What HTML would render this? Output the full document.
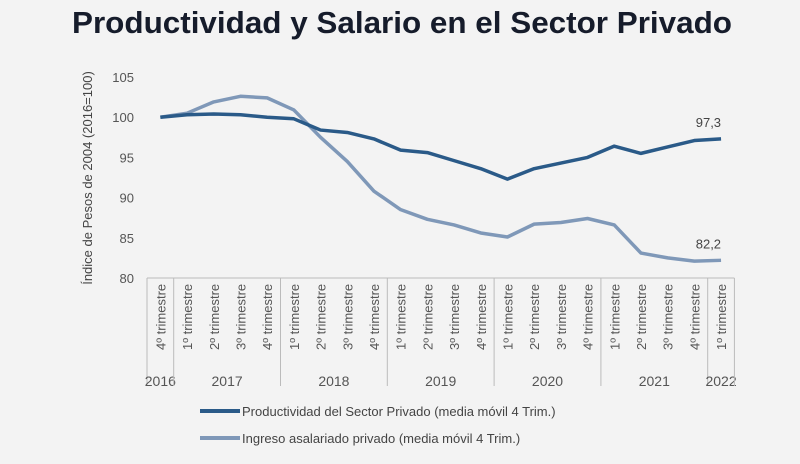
<!DOCTYPE html>
<html><head><meta charset="utf-8"><style>
body{margin:0;background:#f3f3f3;width:800px;height:459px;overflow:hidden;font-family:"Liberation Sans",sans-serif}
</style></head><body>
<svg width="800" height="459" viewBox="0 0 800 459">
<rect width="800" height="459" fill="#f3f3f3"/>
<text x="402" y="33" text-anchor="middle" font-size="31" font-weight="bold" fill="#161c2b" textLength="660" lengthAdjust="spacingAndGlyphs">Productividad y Salario en el Sector Privado</text>
<text transform="translate(92,178) rotate(-90)" text-anchor="middle" font-size="13" fill="#444">Índice de Pesos de 2004 (2016=100)</text>
<g id="yt"></g><g id="xa"></g><g id="lines"></g>
<line x1="200" y1="411" x2="240" y2="411" stroke="#2a5a88" stroke-width="4"/>
<text x="242" y="416" font-size="13" fill="#444">Productividad del Sector Privado (media móvil 4 Trim.)</text>
<line x1="200" y1="438" x2="240" y2="438" stroke="#7f98b8" stroke-width="4"/>
<text x="242" y="443" font-size="13" fill="#444">Ingreso asalariado privado (media móvil 4 Trim.)</text>
</svg>
<script>
const quarters=["4º","1º","2º","3º","4º","1º","2º","3º","4º","1º","2º","3º","4º","1º","2º","3º","4º","1º","2º","3º","4º","1º"];
const years=[["2016",1],["2017",4],["2018",4],["2019",4],["2020",4],["2021",4],["2022",1]];
const productividad=[100,100.3,100.4,100.3,100.0,99.8,98.4,98.1,97.3,95.9,95.6,94.6,93.6,92.3,93.6,94.3,95.0,96.4,95.5,96.3,97.1,97.3];
const ingreso=[100,100.5,101.9,102.6,102.4,100.9,97.5,94.5,90.8,88.5,87.3,86.6,85.6,85.1,86.7,86.9,87.4,86.6,83.1,82.5,82.1,82.2];
const yTicks=[80,85,90,95,100,105];
const NS="http://www.w3.org/2000/svg";
const x0=147,cw=26.7,yb=278,ppu=8.04;
const X=i=>x0+cw*(i+0.5), Y=v=>yb-(v-80)*ppu;
function mk(t,a,p){const e=document.createElementNS(NS,t);for(const k in a)e.setAttribute(k,a[k]);p.appendChild(e);return e;}
const yt=document.getElementById('yt');
yTicks.forEach(v=>{const t=mk('text',{x:134,y:Y(v)+5,'text-anchor':'end','font-size':13,fill:'#555'},yt);t.textContent=v;

});
const xa=document.getElementById('xa');
const ax=mk('line',{x1:x0,y1:yb,x2:x0+cw*quarters.length,y2:yb,stroke:'#bbb'},xa);


quarters.forEach((q,i)=>{const t=mk('text',{transform:`translate(${X(i)+5},${350}) rotate(-90)`,'font-size':13,fill:'#555'},xa);t.textContent=q+' trimestre';

});
let idx=0;
years.forEach(([y,n],k)=>{
 const l=mk('line',{x1:x0+cw*idx,y1:yb,x2:x0+cw*idx,y2:386,stroke:'#bbb'},xa);
 
 
 const c=x0+cw*(idx+n/2);
 const t=mk('text',{x:c,y:386,'text-anchor':'middle','font-size':14,fill:'#555'},xa);t.textContent=y;
 
 
 idx+=n;});
const le=mk('line',{x1:x0+cw*idx,y1:yb,x2:x0+cw*idx,y2:386,stroke:'#bbb'},xa);


const g=document.getElementById('lines');
[[ingreso,'#7f98b8','ingreso-line'],[productividad,'#2a5a88','productividad-line']].forEach(([d,c,n])=>{
 const p=mk('polyline',{points:d.map((v,i)=>X(i)+','+Y(v)).join(' '),fill:'none',stroke:c,'stroke-width':3.5,'stroke-linejoin':'round'},g);
 
 
 const last=d.length-1;
 const t=mk('text',{x:X(last),y:Y(d[last])-12,'text-anchor':'end','font-size':13,fill:'#444'},g);
 t.textContent=d[last].toFixed(1).replace('.',',');
 
 
});
</script>
</body></html>
